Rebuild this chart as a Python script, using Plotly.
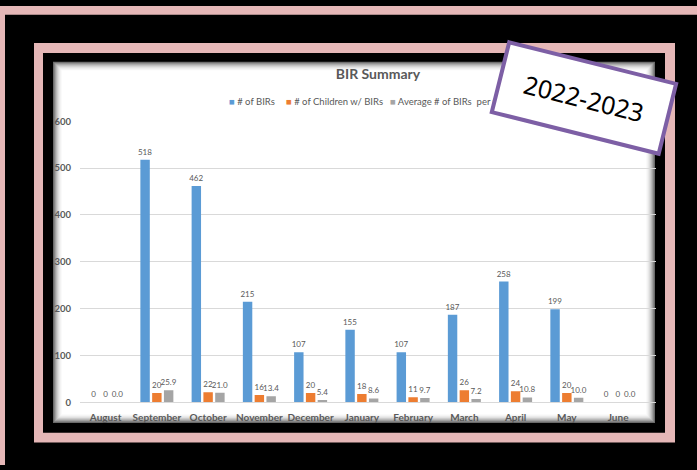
import plotly.graph_objects as go

months = ["August", "September", "October", "November", "December", "January",
          "February", "March", "April", "May", "June"]
birs = [0, 518, 462, 215, 107, 155, 107, 187, 258, 199, 0]
children = [0, 20, 22, 16, 20, 18, 11, 26, 24, 20, 0]
avg_per_child = [0.0, 25.9, 21.0, 13.4, 5.4, 8.6, 9.7, 7.2, 10.8, 10.0, 0.0]

series_names = ["# of BIRs", "# of Children w/ BIRs", "Average # of BIRs  per Child"]
series_colors = ["#5B9BD5", "#ED7D31", "#A5A5A5"]

W, H = 697, 470
PINK = "#E5B7B7"
TEXT = "#595959"
FONT = "Lato"


def px(x):
    return x / W


def py(y):
    return 1 - y / H


def rect(x0, y0, x1, y1, color):
    return dict(type="rect", xref="paper", yref="paper", layer="below",
                x0=px(x0), x1=px(x1), y0=py(y1), y1=py(y0),
                fillcolor=color, line=dict(width=0))


fig = go.Figure()
for vals, name, color, fmt in zip([birs, children, avg_per_child], series_names,
                                  series_colors, ["%{y}", "%{y}", "%{y:.1f}"]):
    fig.add_trace(go.Bar(x=months, y=vals, name=name, marker_color=color,
                         texttemplate=fmt, showlegend=False))
fig.update_traces(textposition="outside", constraintext="none", cliponaxis=False,
                  textfont=dict(family=FONT, size=8, color=TEXT),
                  marker_line_width=0)

# frames: outer pink edges, inner pink frame, black mat, white card with soft shadow
shapes = [
    rect(0, 0, W, 9, PINK),
    rect(0, 0, 5, H, PINK),
    rect(34, 38, 675, 447, PINK),
    rect(43, 48, 665, 437, "black"),
]
shade = ["#6a6a6a", "#858585", "#a0a0a0", "#b8b8b8", "#cccccc",
         "#dcdcdc", "#e9e9e9", "#f3f3f3", "#fafafa"]
for i, c in enumerate(shade):
    shapes.append(rect(53 + i, 57 + i, 655 - i, 427 - i, c))
n = len(shade)
shapes.append(rect(53 + n, 57 + n, 655 - n, 427 - n, "white"))

# legend row (small squares tight to the text, as in the source chart)
legend_x = [227, 284, 388]
annotations = []
for x, name, color in zip(legend_x, series_names, series_colors):
    annotations.append(dict(
        text=f"<span style='color:{color}'>■</span> {name}", xref="paper", yref="paper",
        x=px(x), y=py(98), xanchor="left", yanchor="middle", showarrow=False,
        font=dict(family=FONT, size=9.5, color=TEXT)))

# the year stamp sits on top of everything
annotations.append(dict(
    text="2022-2023", xref="paper", yref="paper", x=px(584), y=py(94),
    xanchor="center", yanchor="middle", showarrow=False, textangle=14,
    width=164, height=64, borderpad=2, borderwidth=4, bordercolor="#7D5FA5",
    bgcolor="white", font=dict(family="Noto Sans", size=25, color="black")))

fig.update_layout(
    width=W, height=H,
    margin=dict(l=0, r=0, t=0, b=0),
    paper_bgcolor="black", plot_bgcolor="rgba(0,0,0,0)",
    font=dict(family=FONT, color=TEXT),
    barmode="group", bargap=0.31, bargroupgap=0.2,
    title=dict(text="<b>BIR Summary</b>", x=px(378), y=py(74), xanchor="center",
               yanchor="middle", font=dict(family=FONT, size=14, color=TEXT)),
    xaxis=dict(domain=[px(80), px(655.5)], range=[-0.5, 10.73],
               showline=True, linecolor="#D9D9D9", linewidth=1, showgrid=False,
               ticks="", ticklabelstandoff=6,
               tickfont=dict(family=FONT, size=10, color=TEXT, weight="bold")),
    yaxis=dict(domain=[py(406), py(118)], range=[0, 600], dtick=100,
               showgrid=True, gridcolor="#D9D9D9", gridwidth=1, zeroline=False,
               showline=False, ticks="", ticklabelstandoff=8,
               tickfont=dict(family=FONT, size=9.5, color=TEXT, weight="bold")),
    shapes=shapes,
    annotations=annotations,
)

fig.write_html("out.html", config={"displayModeBar": False},
               post_script="document.body.style.margin='0';")
